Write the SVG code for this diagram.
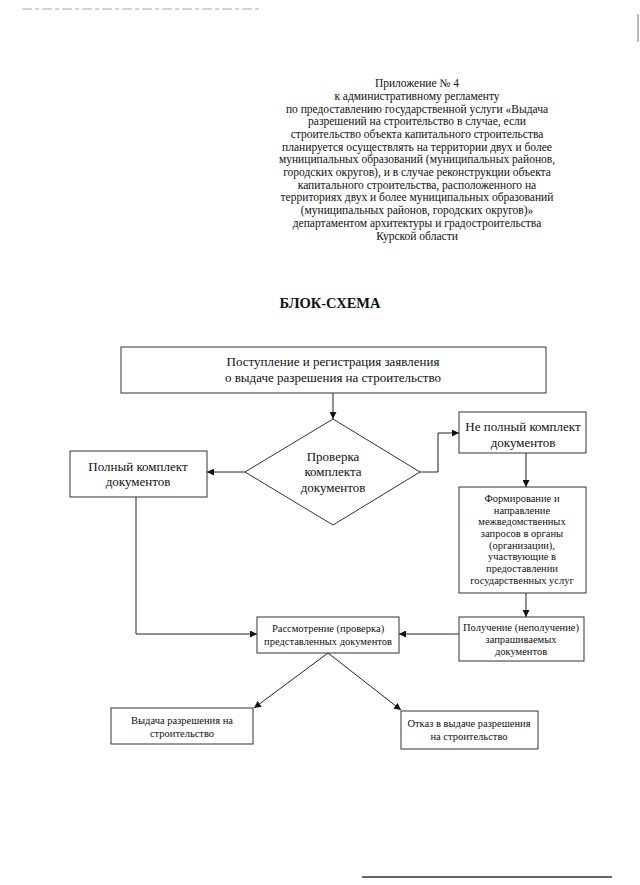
<svg xmlns="http://www.w3.org/2000/svg" width="640" height="885" viewBox="0 0 640 885">
<defs>
<marker id="ah" viewBox="0 0 10 10" refX="10" refY="5" markerWidth="7" markerHeight="7" markerUnits="userSpaceOnUse" orient="auto">
<path d="M0,0 L10,5 L0,10 z" fill="#111"/>
</marker>
</defs>
<style>
.t{font-family:"Liberation Serif","Times New Roman",serif;fill:#111;text-anchor:middle}
.hd{font-size:11.5px}
.b13{font-size:13px}
.b11{font-size:10.5px}
.box{fill:#fff;stroke:#333;stroke-width:1}
.ln{fill:none;stroke:#222;stroke-width:1;marker-end:url(#ah)}
</style>
<rect width="640" height="885" fill="#fff"/>
<g id="page-marks">
<line x1="22" y1="9" x2="262" y2="9" stroke="#aaa" stroke-width="1" stroke-dasharray="10 3 4 3"/>
<line x1="638" y1="14" x2="638" y2="42" stroke="#777" stroke-width="1"/>
<line x1="362" y1="877" x2="612" y2="877" stroke="#333" stroke-width="1.3"/>
</g>
<g id="header">
<text class="t hd" x="417" y="87">Приложение № 4</text>
<text class="t hd" x="417" y="100">к административному регламенту</text>
<text class="t hd" x="417" y="113">по предоставлению государственной услуги «Выдача</text>
<text class="t hd" x="417" y="125">разрешений на строительство в случае, если</text>
<text class="t hd" x="417" y="138">строительство объекта капитального строительства</text>
<text class="t hd" x="417" y="151">планируется осуществлять на территории двух и более</text>
<text class="t hd" x="417" y="163">муниципальных образований (муниципальных районов,</text>
<text class="t hd" x="417" y="176">городских округов), и в случае реконструкции объекта</text>
<text class="t hd" x="417" y="189">капитального строительства, расположенного на</text>
<text class="t hd" x="417" y="201">территориях двух и более муниципальных образований</text>
<text class="t hd" x="417" y="214">(муниципальных районов, городских округов)»</text>
<text class="t hd" x="417" y="227">департаментом архитектуры и градостроительства</text>
<text class="t hd" x="417" y="240">Курской области</text>
</g>
<g id="title">
<text class="t" x="330" y="308" style="font-size:14.5px;font-weight:bold">БЛОК-СХЕМА</text>
</g>
<g id="connectors">
<line class="ln" x1="333" y1="393" x2="333" y2="419"/>
<line class="ln" x1="245" y1="472" x2="207" y2="472"/>
<polyline class="ln" points="420,472 438,472 438,433 459,433"/>
<line class="ln" x1="526" y1="453" x2="526" y2="487"/>
<line class="ln" x1="526" y1="593" x2="526" y2="617"/>
<line class="ln" x1="459" y1="634" x2="399" y2="634"/>
<polyline class="ln" points="136,497 136,634 257,634"/>
<line class="ln" x1="328" y1="653" x2="254" y2="708"/>
<line class="ln" x1="328" y1="653" x2="401" y2="710"/>
</g>
<g id="n-start">
<rect class="box" x="121" y="347" width="425" height="46"/>
<text class="t b13" x="333" y="366">Поступление и регистрация заявления</text>
<text class="t b13" x="333" y="382">о выдаче разрешения на строительство</text>
</g>
<g id="n-check">
<polygon class="box" points="333,419 420,472 333,525 245,472"/>
<text class="t b13" x="333" y="461">Проверка</text>
<text class="t b13" x="333" y="476">комплекта</text>
<text class="t b13" x="333" y="492">документов</text>
</g>
<g id="n-full">
<rect class="box" x="70" y="451" width="137" height="46"/>
<text class="t b13" x="138" y="471">Полный комплект</text>
<text class="t b13" x="138" y="486">документов</text>
</g>
<g id="n-incomplete">
<rect class="box" x="459" y="412" width="127" height="41"/>
<text class="t b13" x="523" y="431">Не полный комплект</text>
<text class="t b13" x="523" y="447">документов</text>
</g>
<g id="n-requests">
<rect class="box" x="459" y="487" width="127" height="106"/>
<text class="t b11" x="522" y="502">Формирование и</text>
<text class="t b11" x="522" y="514">направление</text>
<text class="t b11" x="522" y="525">межведомственных</text>
<text class="t b11" x="522" y="537">запросов в органы</text>
<text class="t b11" x="522" y="549">(организации),</text>
<text class="t b11" x="522" y="560">участвующие в</text>
<text class="t b11" x="522" y="572">предоставлении</text>
<text class="t b11" x="522" y="584">государственных услуг</text>
</g>
<g id="n-receive">
<rect class="box" x="459" y="617" width="125" height="44"/>
<text class="t b11" x="521" y="631">Получение (неполучение)</text>
<text class="t b11" x="521" y="643">запрашиваемых</text>
<text class="t b11" x="521" y="655">документов</text>
</g>
<g id="n-review">
<rect class="box" x="257" y="617" width="142" height="36"/>
<text class="t b11" x="328" y="632">Рассмотрение (проверка)</text>
<text class="t b11" x="328" y="645">представленных документов</text>
</g>
<g id="n-issue">
<rect class="box" x="111" y="708" width="142" height="36"/>
<text class="t b11" x="182" y="724">Выдача разрешения на</text>
<text class="t b11" x="182" y="737">строительство</text>
</g>
<g id="n-refuse">
<rect class="box" x="401" y="711" width="137" height="38"/>
<text class="t b11" x="469" y="727">Отказ в выдаче разрешения</text>
<text class="t b11" x="469" y="740">на строительство</text>
</g>
</svg>
